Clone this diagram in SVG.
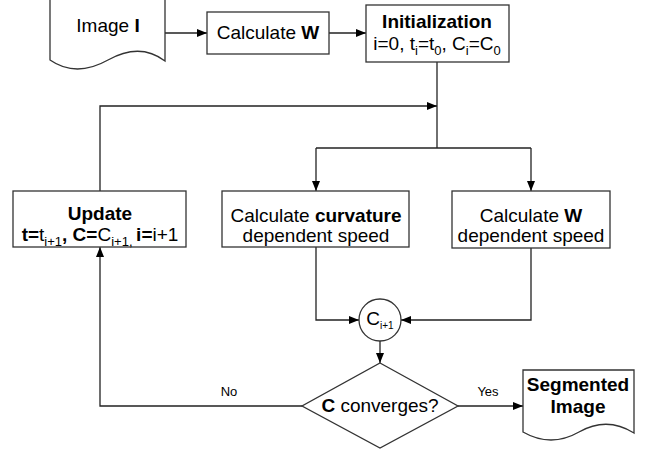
<svg xmlns="http://www.w3.org/2000/svg" width="652" height="449" viewBox="0 0 652 449">
<style>
.box{fill:#fff;stroke:#333;stroke-width:1.3}
.ln{fill:none;stroke:#222;stroke-width:1.3}
text{font-family:"Liberation Sans",Arial,sans-serif;font-size:19px;fill:#000}
.b{font-weight:bold}
.lbl{font-size:13px}
.sub{font-size:13px}
</style>
<defs>
<marker id="ah" viewBox="0 0 10 10" refX="10" refY="5" markerWidth="10" markerHeight="10" markerUnits="userSpaceOnUse" orient="auto">
<path d="M0,1 L10,5 L0,9 Z" fill="#000"/>
</marker>
</defs>
<rect width="652" height="449" fill="#fff"/>
<g id="connectors">
<path class="ln" d="M165,33 H207" marker-end="url(#ah)"/>
<path class="ln" d="M329,33 H366" marker-end="url(#ah)"/>
<path class="ln" d="M437,62 V148"/>
<path class="ln" d="M100,191 V106 H437" marker-end="url(#ah)"/>
<path class="ln" d="M316,148 H531"/>
<path class="ln" d="M316,148 V191" marker-end="url(#ah)"/>
<path class="ln" d="M531,148 V191" marker-end="url(#ah)"/>
<path class="ln" d="M316,247 V320 H359" marker-end="url(#ah)"/>
<path class="ln" d="M531,248 V320 H401" marker-end="url(#ah)"/>
<path class="ln" d="M380,341 V363" marker-end="url(#ah)"/>
<path class="ln" d="M302,406 H100 V247" marker-end="url(#ah)"/>
<path class="ln" d="M458,406 H523" marker-end="url(#ah)"/>
<text class="lbl" x="229" y="396" text-anchor="middle">No</text>
<text class="lbl" x="488" y="396" text-anchor="middle">Yes</text>
</g>
<g id="image">
<path class="box" d="M50,-5 H165 V61 Q140,42 108,60 T50,60 Z"/>
<text x="108" y="32" text-anchor="middle">Image <tspan class="b">I</tspan></text>
</g>
<g id="calcW">
<rect class="box" x="207" y="12" width="122" height="42"/>
<text x="268" y="39" text-anchor="middle">Calculate <tspan class="b">W</tspan></text>
</g>
<g id="init">
<rect class="box" x="366" y="5" width="143" height="57"/>
<text class="b" x="437" y="28" text-anchor="middle">Initialization</text>
<text x="437" y="50" text-anchor="middle">i=0, t<tspan class="sub" dy="5">i</tspan><tspan dy="-5">=t</tspan><tspan class="sub" dy="5">0</tspan><tspan dy="-5">, C</tspan><tspan class="sub" dy="5">i</tspan><tspan dy="-5">=C</tspan><tspan class="sub" dy="5">0</tspan></text>
</g>
<g id="update">
<rect class="box" x="13" y="191" width="173" height="56"/>
<text class="b" x="100" y="220" text-anchor="middle">Update</text>
<text x="100" y="241" text-anchor="middle"><tspan class="b">t=</tspan>t<tspan class="sub" dy="5">i+1</tspan><tspan class="b" dy="-5">, C=</tspan>C<tspan class="sub" dy="5">i+1, </tspan><tspan class="b" dy="-5">i=</tspan>i+1</text>
</g>
<g id="curv">
<rect class="box" x="222" y="191" width="187" height="56"/>
<text x="316" y="222" text-anchor="middle">Calculate <tspan class="b">curvature</tspan></text>
<text x="316" y="242" text-anchor="middle">dependent speed</text>
</g>
<g id="wspeed">
<rect class="box" x="452" y="191" width="158" height="57"/>
<text x="531" y="222" text-anchor="middle">Calculate <tspan class="b">W</tspan></text>
<text x="531" y="242" text-anchor="middle">dependent speed</text>
</g>
<g id="cnext">
<circle class="box" cx="380" cy="320" r="21"/>
<text x="380" y="325" text-anchor="middle" font-size="15">C<tspan font-size="10" dy="4">i+1</tspan></text>
</g>
<g id="decision">
<polygon class="box" points="380,363 458,406 380,448 302,406"/>
<text x="380" y="412" text-anchor="middle"><tspan class="b">C</tspan> converges?</text>
</g>
<g id="segmented">
<path class="box" d="M523,370 H634 V433 Q607,416 579,432 T523,432 Z"/>
<text class="b" x="578" y="391" text-anchor="middle">Segmented</text>
<text class="b" x="578" y="413" text-anchor="middle">Image</text>
</g>
</svg>
